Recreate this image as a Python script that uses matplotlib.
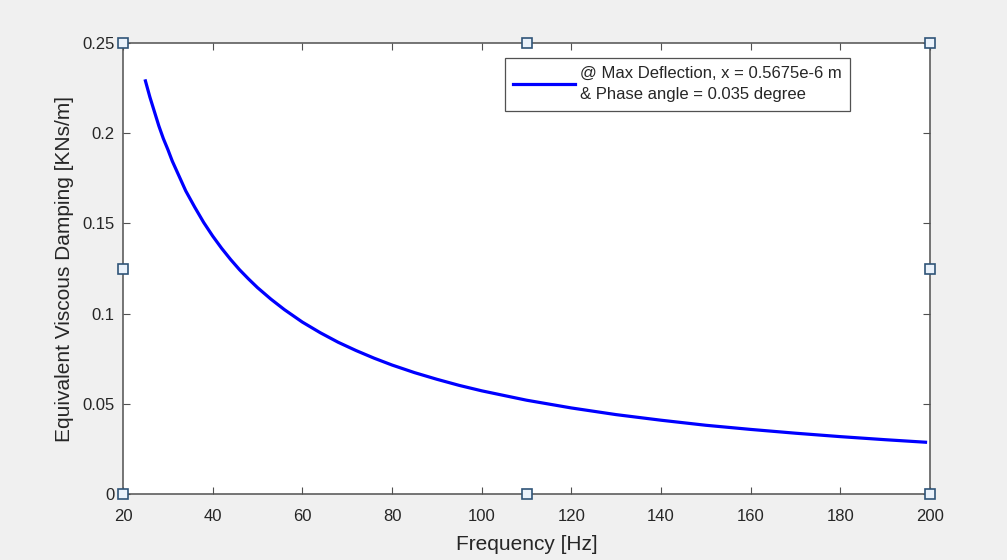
import matplotlib
matplotlib.use("Agg")
import matplotlib.pyplot as plt

plt.rcParams['font.family'] = ['Liberation Sans', 'DejaVu Sans']

# Equivalent viscous damping vs excitation frequency
freq_hz = [25, 26, 27, 28, 29, 30, 31, 32, 33, 34, 35, 36, 38, 40, 42, 44, 46, 48,
           50, 53, 56, 60, 64, 68, 72, 76, 80, 85, 90, 95, 100, 110, 120, 130,
           140, 150, 160, 170, 180, 190, 199]
damping_kns_m = [0.229, 0.220, 0.212, 0.204, 0.197, 0.191, 0.1845, 0.179, 0.1735,
                 0.168, 0.1635, 0.159, 0.1505, 0.143, 0.1362, 0.130, 0.1243, 0.1192,
                 0.1144, 0.108, 0.1022, 0.0953, 0.0894, 0.0841, 0.0795, 0.0753,
                 0.0715, 0.0673, 0.0636, 0.0602, 0.0572, 0.052, 0.0477, 0.044,
                 0.0409, 0.0381, 0.0358, 0.0337, 0.0318, 0.0301, 0.0287]

x_ticks = [20, 40, 60, 80, 100, 120, 140, 160, 180, 200]
y_ticks = [0, 0.05, 0.1, 0.15, 0.2, 0.25]
y_tick_labels = ['0', '0.05', '0.1', '0.15', '0.2', '0.25']
legend_label = '@ Max Deflection, x = 0.5675e-6 m\n& Phase angle = 0.035 degree'

fig = plt.figure(figsize=(10.07, 5.6), dpi=100, facecolor='#f0f0f0')
ax = fig.add_axes([123 / 1007, 1 - 494 / 560, 807 / 1007, 451 / 560])
ax.set_facecolor('white')

ax.plot(freq_hz, damping_kns_m, color='#0000ff', lw=2.3, label=legend_label,
        solid_joinstyle='round')

ax.set_xlim(20, 200)
ax.set_ylim(0, 0.25)
ax.set_xticks(x_ticks)
ax.set_yticks(y_ticks)
ax.set_yticklabels(y_tick_labels)

axis_color = '#262626'
for s in ax.spines.values():
    s.set_color('#505050')
    s.set_linewidth(1.1)
ax.tick_params(direction='in', length=5, width=0.8, top=True, right=True,
               colors='#505050', labelcolor=axis_color, labelsize=12)
ax.tick_params(axis='x', pad=10.5)
ax.tick_params(axis='y', pad=6)

ax.set_xlabel('Frequency [Hz]', fontsize=15, color=axis_color, labelpad=8.5)
ax.set_ylabel('Equivalent Viscous Damping [KNs/m]', fontsize=15,
              color=axis_color, labelpad=6)

leg = ax.legend(loc='upper right', bbox_to_anchor=(0.901, 0.967), fontsize=12,
                frameon=True, fancybox=False, handlelength=3.7, handletextpad=0.3,
                borderpad=0.5, labelspacing=0.2, borderaxespad=0)
leg.get_frame().set_edgecolor('#262626')
leg.get_frame().set_linewidth(0.9)
for t in leg.get_texts():
    t.set_color(axis_color)
    t.set_linespacing(1.5)

# selection handles around the axes box
hx = [20, 110, 200, 20, 200, 20, 110, 200]
hy = [0.25, 0.25, 0.25, 0.125, 0.125, 0, 0, 0]
ax.plot(hx, hy, ls='none', marker='s', ms=6.5, mfc='#eaf2fb', mec='#2f5478',
        mew=1.2, clip_on=False, zorder=5)

fig.savefig('out.png', dpi=100, facecolor=fig.get_facecolor())
